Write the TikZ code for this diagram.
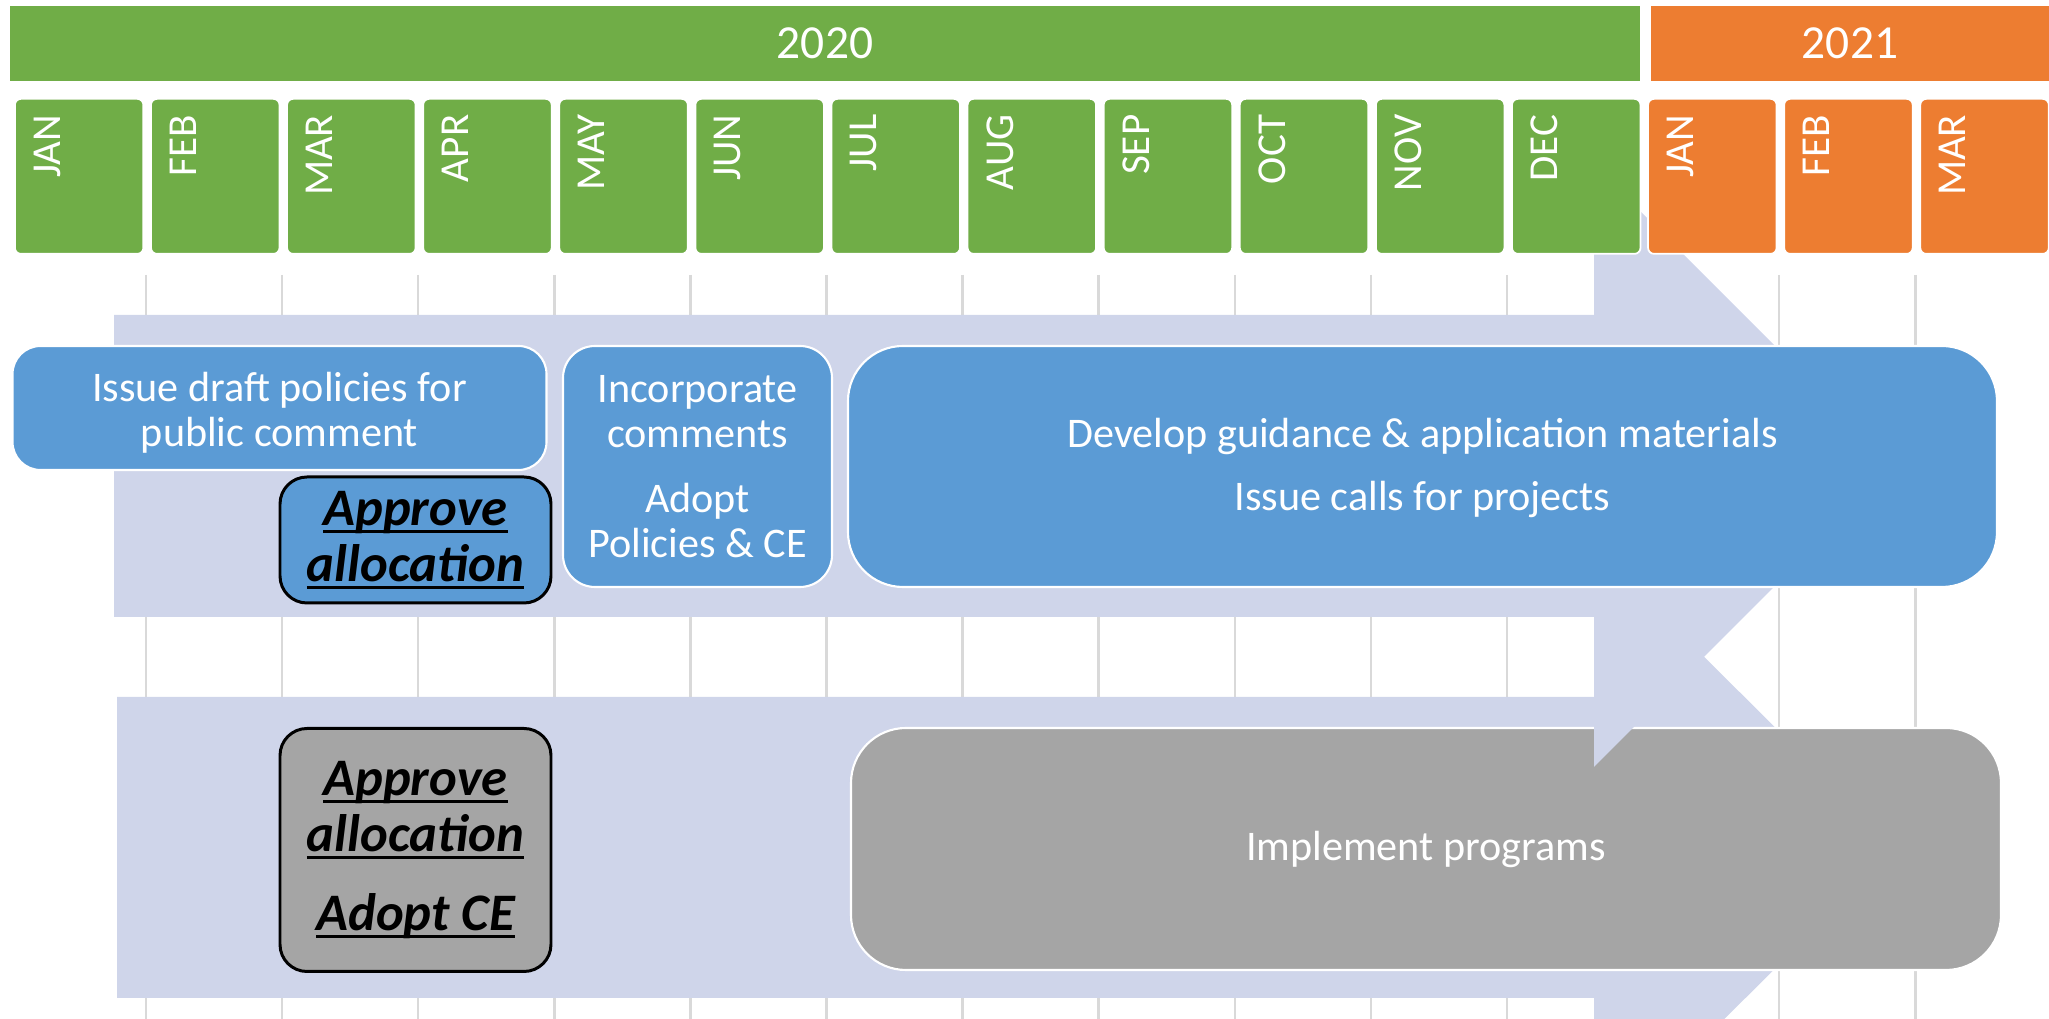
\documentclass[tikz,border=0pt]{standalone}
\usepackage{fontspec}
\setmainfont{Carlito}
\definecolor{grn}{HTML}{70AD47}
\definecolor{org}{HTML}{ED7D31}
\definecolor{blu}{HTML}{5B9BD5}
\definecolor{gry}{HTML}{A5A5A5}
\definecolor{arw}{HTML}{CFD5EA}
\definecolor{grd}{HTML}{D9D9D9}
\newsavebox{\ulxbox}
\newcommand{\ulx}[1]{\sbox{\ulxbox}{#1}\rlap{\rule[-2.1pt]{\wd\ulxbox}{0.85pt}}\usebox{\ulxbox}}
\begin{document}
\begin{tikzpicture}[x=0.1mm,y=-0.1mm,
  gridline/.style={draw=grd,line width=0.7pt},
  arrowfill/.style={fill=arw},
  yearbar/.style={rectangle,inner sep=0pt,text=white,font=\fontsize{13.5}{16}\selectfont,minimum height=7.5mm},
  monthbox/.style={rectangle,rounded corners=0.6mm,draw=white,line width=0.5pt,inner sep=0pt,minimum width=12.85mm,minimum height=15.5mm},
  monthtext/.style={rotate=90,inner sep=0pt,text=white,font=\fontsize{11.7}{13}\selectfont},
  bluebox/.style={rectangle,fill=blu,draw=white,line width=0.6pt,inner sep=0pt,text=white,align=center,font=\fontsize{12}{12.8}\selectfont},
  graybox/.style={rectangle,fill=gry,draw=white,line width=0.6pt,inner sep=0pt,text=white,align=center,font=\fontsize{12}{12.8}\selectfont},
  plaintext/.style={inner sep=0pt,text=white,align=center,font=\fontsize{12}{12.8}\selectfont},
  approvebox/.style={rectangle,draw=black,line width=0.85pt,rounded corners=2.7mm,inner sep=0pt,text=black,align=center,font=\fontsize{15}{15.9}\selectfont\bfseries\itshape,minimum width=27.1mm}
]
\useasboundingbox (0,0) rectangle (2049,1019);
\clip (0,0) rectangle (2049,1019);
% grid lines
\foreach \k in {0,...,13}
  \draw[gridline] ({146+136.1*\k},275) -- ({146+136.1*\k},1019);
% lower arrow
\fill[arrowfill] (117,697) -- (1594,697) -- (1594,547) -- (1896,848) -- (1594,1149) -- (1594,998) -- (117,998) -- cycle;
\node[graybox,minimum width=115mm,minimum height=24.2mm,rounded corners=5.5mm] (impl) at (1426,849) {Implement programs};
\node[approvebox,fill=gry,minimum height=24.3mm] (appr2) at (415.5,850) {\ulx{Approve}\\\ulx{allocation}\\[6.5pt]\ulx{Adopt CE}};
% upper arrow
\fill[arrowfill] (114,315) -- (1594,315) -- (1594,165) -- (1895,466) -- (1594,767) -- (1594,617) -- (114,617) -- cycle;
% year bars
\node[yearbar,fill=grn,minimum width=163mm] (y2020) at (825,43.5) {2020};
\node[yearbar,fill=org,minimum width=39.8mm] (y2021) at (1850,43.5) {2021};
% months
\foreach \i/\m in {0/JAN,1/FEB,2/MAR,3/APR,4/MAY,5/JUN,6/JUL,7/AUG,8/SEP,9/OCT,10/NOV,11/DEC}{
  \node[monthbox,fill=grn,anchor=north west] (m\i) at ({14+136.1*\i},98) {};
  \node[monthtext,anchor=north east] (t\i) at ({14+136.1*\i+19},114) {\m};
}
\foreach \i/\m in {12/JAN,13/FEB,14/MAR}{
  \node[monthbox,fill=org,anchor=north west] (m\i) at ({14+136.1*\i},98) {};
  \node[monthtext,anchor=north east] (t\i) at ({14+136.1*\i+19},114) {\m};
}
% upper tasks
\node[bluebox,minimum width=53.4mm,minimum height=12.4mm,rounded corners=2.8mm] (issue) at (279.5,408) {};
\node[plaintext] (issuetxt) at (279.5,413) {Issue draft policies for\\public comment};
\node[approvebox,fill=blu,minimum height=12.6mm] (appr1) at (415.5,540) {\ulx{Approve}\\\ulx{allocation}};
\node[bluebox,minimum width=26.9mm,minimum height=24.1mm,rounded corners=3.2mm] (incorp) at (697.5,466.5) {Incorporate\\comments\\[5.7pt]Adopt\\Policies \& CE};
\node[bluebox,minimum width=114.9mm,minimum height=24.1mm,rounded corners=5.5mm] (develop) at (1422.5,466.5) {};
\node[plaintext] (developtxt) at (1422.5,468) {Develop guidance \& application materials\\[5.4pt]Issue calls for projects};
\end{tikzpicture}
\end{document}
